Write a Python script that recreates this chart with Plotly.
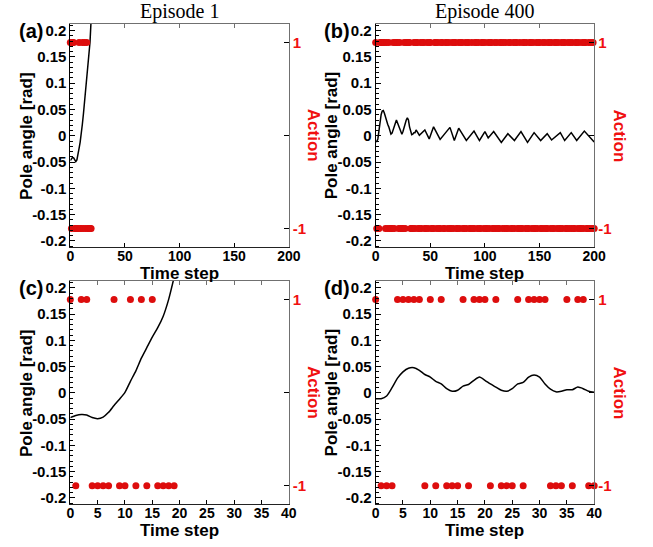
import plotly.graph_objects as go

# ---------------- data ----------------
# Episode 1 (failure after 20 steps)
ep1_steps = list(range(20))
ep1_angle = [-0.047, -0.043, -0.041, -0.042, -0.047, -0.049, -0.046, -0.037, -0.024, -0.012,
             0.001, 0.022, 0.042, 0.066, 0.086, 0.106, 0.124, 0.146, 0.178, 0.220]
ep1_action = [1, -1, 1, 1, -1, -1, -1, -1, 1, -1,
              -1, 1, -1, 1, -1, 1, -1, -1, -1, -1]

# Episode 400, first 41 steps
ep400_steps_early = list(range(41))
ep400_angle_early = [-0.011, -0.011, -0.006, 0.010, 0.028, 0.040, 0.047, 0.048, 0.043, 0.035,
                     0.030, 0.022, 0.017, 0.008, 0.003, 0.005, 0.013, 0.016, 0.024, 0.030,
                     0.024, 0.017, 0.011, 0.005, 0.003, 0.008, 0.017, 0.020, 0.030, 0.034,
                     0.030, 0.017, 0.007, 0.002, 0.003, 0.006, 0.006, 0.011, 0.008, 0.003,
                     0.001]
# Episode 400, later turning points
ep400_steps_late = [45, 49, 53, 59, 68, 72, 76, 83, 90, 95, 100, 103, 108, 115, 121, 127,
                    133, 139, 145, 151, 157, 161, 169, 173, 179, 184, 191, 198, 200]
ep400_angle_late = [0.011, -0.006, 0.017, -0.007, 0.016, -0.009, 0.0145, -0.009, 0.009, -0.009,
                    0.008, -0.004, 0.008, -0.0126, 0.004, -0.009, 0.008, -0.0126, 0.006, -0.009,
                    0.004, -0.008, 0.006, -0.009, 0.006, -0.009, 0.009, -0.008, -0.012]

ep400_action_early = [1, -1, -1, -1, 1, 1, 1, 1, 1, -1,
                      1, -1, 1, -1, -1, -1, 1, -1, 1, 1,
                      1, -1, 1, -1, -1, -1, 1, -1, 1, 1,
                      1, 1, -1, -1, -1, 1, -1, 1, 1, -1,
                      -1]
ep400_action_late = [1, -1, 1, 1, -1, -1, 1, -1, 1, 1, -1, -1, -1, 1, 1, -1, 1, -1, -1, 1,
                     1, -1, -1, 1, 1, -1, 1, -1, -1, 1, -1, 1, 1, -1, -1, 1, -1, 1, 1, -1,
                     -1, 1, -1, 1, 1, -1, -1, 1, -1, -1, 1, 1, -1, 1, -1, -1, 1, 1, -1, 1,
                     -1, -1, 1, -1, 1, 1, -1, -1, 1, -1, 1, -1, -1, 1, 1, -1, 1, -1, 1, -1,
                     -1, 1, 1, -1, -1, 1, -1, 1, 1, -1, -1, 1, -1, -1, 1, 1, -1, 1, -1, -1,
                     1, 1, -1, 1, -1, -1, 1, -1, 1, 1, -1, -1, 1, -1, 1, -1, -1, 1, 1, -1,
                     1, -1, -1, 1, 1, -1, 1, -1, -1, 1, -1, 1, 1, -1, -1, 1, -1, 1, -1, 1,
                     -1, -1, 1, 1, -1, 1, -1, -1, 1, -1, 1, 1, -1, -1, 1, -1, 1, -1, 1, -1]

angle_ticks = [-0.2, -0.15, -0.1, -0.05, 0, 0.05, 0.1, 0.15, 0.2]
angle_ticktext = ["-0.2", "-0.15", "-0.1", "-0.05", "0", "0.05", "0.1", "0.15", "0.2"]
action_ticks = [-1, 0, 1]
action_ticktext = ["-1", "", "1"]
time_ticks_long = [0, 50, 100, 150, 200]
time_ticks_short = [0, 5, 10, 15, 20, 25, 30, 35, 40]

# ---------------- figure ----------------
W, H = 653, 547
RED_MK = "#dd0d0d"
RED_TX = "#f01010"
GRAY = "#707070"
SANS = "Liberation Sans"

ep400_steps_all = ep400_steps_early + ep400_steps_late
ep400_angle_all = ep400_angle_early + ep400_angle_late
ep400_action_all = ep400_action_early + ep400_action_late
ep400_action_steps = list(range(len(ep400_action_all)))

panels = [
    ("(a)", (68, 292), (22, 247), [0, 200], time_ticks_long, ep1_steps, ep1_angle, ep1_steps, ep1_action, False),
    ("(b)", (381, 605), (22, 247), [0, 200], time_ticks_long, ep400_steps_all, ep400_angle_all, ep400_action_steps, ep400_action_all, False),
    ("(c)", (68, 292), (281, 506), [0, 40], time_ticks_short, ep1_steps, ep1_angle, ep1_steps, ep1_action, True),
    ("(d)", (381, 605), (281, 506), [0, 40], time_ticks_short, ep400_steps_early, ep400_angle_early, ep400_steps_early, ep400_action_early, True),
]

fig = go.Figure()
layout = dict(width=W, height=H, margin=dict(l=0, r=0, t=0, b=0),
              paper_bgcolor="white", plot_bgcolor="white", showlegend=False)
annotations = []

xtickfont = dict(family=SANS, size=14, color="black", weight="bold")
ytickfont = dict(family=SANS, size=15, color="black", weight="bold")
redtickfont = dict(family=SANS, size=15, color=RED_TX, weight="bold")

for i, (lab, xpx, ypx, xr, xt, lx, ly, ax_, ay_, spl) in enumerate(panels):
    n = i + 1
    xdom = [xpx[0] / W, xpx[1] / W]
    ydom = [1 - ypx[1] / H, 1 - ypx[0] / H]
    xb, yb, yr, xtop = n, n, n + 4, n + 4
    xname = "xaxis" if xb == 1 else f"xaxis{xb}"
    yname = "yaxis" if yb == 1 else f"yaxis{yb}"
    xref = "x" if xb == 1 else f"x{xb}"
    yref = "y" if yb == 1 else f"y{yb}"

    layout[xname] = dict(domain=xdom, range=xr, anchor=yref, tickvals=xt,
                         ticktext=[str(v) for v in xt], ticks="inside", ticklen=4,
                         tickcolor="black", showline=True, linecolor="#222222", linewidth=1,
                         showgrid=False, zeroline=False, tickfont=xtickfont, fixedrange=True,
                         ticklabelstandoff=-4)
    layout[f"xaxis{xtop}"] = dict(range=xr, overlaying=xref, anchor=yref, side="top",
                                  tickvals=xt, ticks="inside", ticklen=4, tickcolor=GRAY,
                                  showline=True, linecolor=GRAY, linewidth=1,
                                  showticklabels=False, showgrid=False, zeroline=False,
                                  fixedrange=True)
    layout[yname] = dict(domain=ydom, range=[-0.212, 0.213], anchor=xref,
                         tickvals=angle_ticks, ticktext=angle_ticktext, ticks="inside",
                         ticklen=5, tickcolor="black", showline=True, linecolor="black",
                         linewidth=1, showgrid=False, zeroline=False, tickfont=ytickfont,
                         minor=dict(tick0=0, dtick=0.01, ticks="inside", ticklen=3,
                                    tickcolor="black"),
                         fixedrange=True)
    layout[f"yaxis{yr}"] = dict(range=[-1.2, 1.2], overlaying=yref, anchor=xref, side="right",
                                tickvals=action_ticks, ticktext=action_ticktext, ticks="inside",
                                ticklen=5, tickcolor="black", showline=True, linecolor=GRAY,
                                linewidth=1, showgrid=False, zeroline=False, tickfont=redtickfont,
                                fixedrange=True)

    fig.add_trace(go.Scatter(x=lx, y=ly, mode="lines", xaxis=xref, yaxis=yref,
                             line=dict(color="black", width=1.5,
                                       shape="spline" if spl else "linear", smoothing=0.6),
                             hoverinfo="skip"))
    fig.add_trace(go.Scatter(x=[None], y=[None], xaxis=f"x{xtop}", yaxis=yref,
                             mode="markers", hoverinfo="skip"))
    fig.add_trace(go.Scatter(x=ax_, y=ay_, mode="markers", xaxis=xref, yaxis=f"y{yr}",
                             marker=dict(color=RED_MK, size=7, line=dict(width=0)),
                             cliponaxis=False, hoverinfo="skip"))

    cx = (xpx[0] + xpx[1]) / 2
    cy = (ypx[0] + ypx[1]) / 2
    annotations.append(dict(text=lab, x=(xpx[0] - 55) / W, y=1 - (ypx[0] + 7) / H,
                            xref="paper", yref="paper", xanchor="left", yanchor="middle",
                            showarrow=False,
                            font=dict(family=SANS, size=20, color="black", weight="bold")))
    annotations.append(dict(text="Pole angle [rad]", x=(xpx[0] - 45) / W, y=1 - cy / H,
                            xref="paper", yref="paper", xanchor="center", yanchor="middle",
                            textangle=-90, showarrow=False,
                            font=dict(family=SANS, size=17, color="black", weight="bold")))
    annotations.append(dict(text="Action", x=(xpx[1] + 25.5) / W, y=1 - cy / H,
                            xref="paper", yref="paper", xanchor="center", yanchor="middle",
                            textangle=90, showarrow=False,
                            font=dict(family=SANS, size=17, color=RED_TX, weight="bold")))
    annotations.append(dict(text="Time step", x=cx / W, y=1 - (ypx[1] + 26) / H,
                            xref="paper", yref="paper", xanchor="center", yanchor="middle",
                            showarrow=False,
                            font=dict(family=SANS, size=17, color="black", weight="bold")))

annotations.append(dict(text="Episode 1", x=180 / W, y=1 - 10 / H, xref="paper", yref="paper",
                        xanchor="center", yanchor="middle", showarrow=False,
                        font=dict(family="Liberation Serif", size=20, color="black")))
annotations.append(dict(text="Episode 400", x=493 / W, y=1 - 10 / H, xref="paper", yref="paper",
                        xanchor="center", yanchor="middle", showarrow=False,
                        font=dict(family="Liberation Serif", size=20, color="black")))
layout["annotations"] = annotations

fig.update_layout(**layout)
fig.write_html("out.html", config=dict(displayModeBar=False),
               post_script="document.body.style.margin='0';document.body.style.padding='0';")
